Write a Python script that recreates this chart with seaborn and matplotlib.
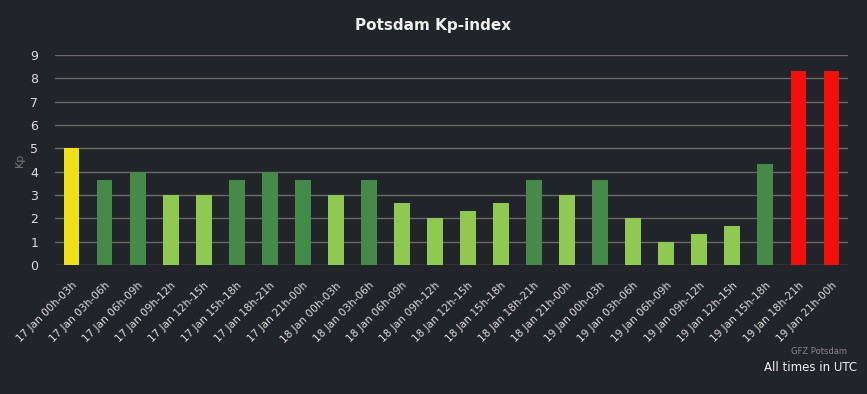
import numpy as np
import pandas as pd
import seaborn as sns
import matplotlib.pyplot as plt

days = ['17 Jan', '18 Jan', '19 Jan']
slots = ['00h-03h', '03h-06h', '06h-09h', '09h-12h',
         '12h-15h', '15h-18h', '18h-21h', '21h-00h']
labels = [f'{d} {s}' for d in days for s in slots]
kp = [5.0, 3.667, 4.0, 3.0, 3.0, 3.667, 4.0, 3.667,
      3.0, 3.667, 2.667, 2.0, 2.333, 2.667, 3.667, 3.0,
      3.667, 2.0, 1.0, 1.333, 1.667, 4.333, 8.333, 8.333]

bg = '#212429'
palette = {'quiet': '#8fc952', 'active': '#468a4a',
           'storm': '#f0e01a', 'severe': '#f40e0b'}


def level(v):
    if v < 3.5:
        return 'quiet'
    if v < 4.9:
        return 'active'
    if v < 7:
        return 'storm'
    return 'severe'


df = pd.DataFrame({'time': labels, 'kp': kp,
                   'level': [level(v) for v in kp]})

sns.set_style('dark')
plt.rcParams['font.family'] = ['DejaVu Sans']

fig = plt.figure(figsize=(8.67, 3.94), dpi=100, facecolor=bg)
ax = fig.add_axes([0.0634, 0.327, 0.9147, 0.533])
ax.set_facecolor(bg)

sns.barplot(data=df, x='time', y='kp', hue='level', palette=palette,
            dodge=False, width=0.48, saturation=1, linewidth=0,
            legend=False, ax=ax, zorder=3)

ax.set_xlim(-0.5, len(labels) - 0.5)
ax.set_ylim(0, 9)
ax.set_yticks(range(10))
ax.grid(axis='y', color='#6b6b6b', linewidth=1, zorder=0)
ax.grid(axis='x', visible=False)
for s in ax.spines.values():
    s.set_visible(False)
ax.axhline(0, color='#3c3f44', linewidth=1, zorder=2)

ax.tick_params(axis='y', colors='#dddddd', labelsize=9, length=0, pad=12)
ax.tick_params(axis='x', colors='#dddddd', labelsize=7.6, length=0, pad=11)
plt.setp(ax.get_xticklabels(), rotation=45, ha='right',
         rotation_mode='anchor')

ax.set_xlabel('')
ax.set_ylabel('Kp', color='#777777', fontsize=8, labelpad=4)

fig.text(0.5, 0.935, 'Potsdam Kp-index', color='#f0f0f0',
         fontsize=11, fontweight='bold', ha='center', va='center')
fig.text(0.977, 0.108, 'GFZ Potsdam', color='#888888', fontsize=6,
         ha='right', va='center')
fig.text(0.989, 0.066, 'All times in UTC', color='#f0f0f0', fontsize=8.5,
         ha='right', va='center')

fig.savefig('out.png', dpi=100, facecolor=bg)
